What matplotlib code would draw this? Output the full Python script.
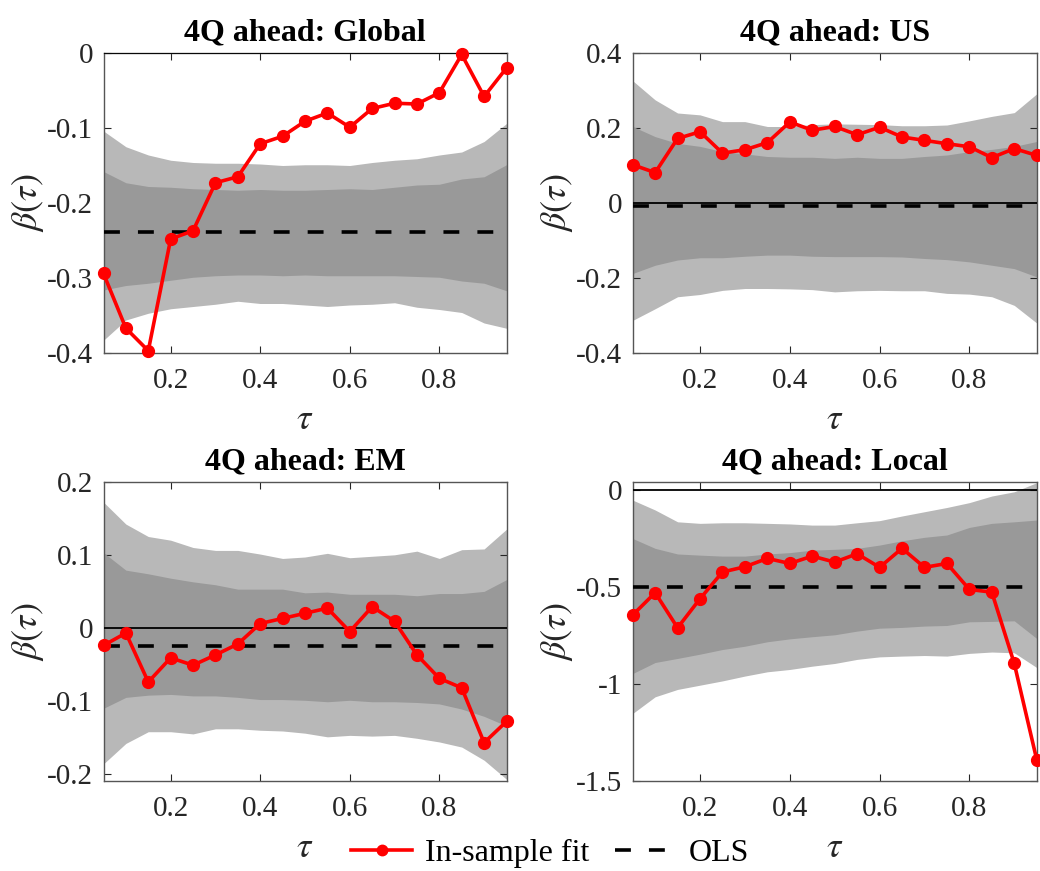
import numpy as np
import matplotlib
matplotlib.use("Agg")
import matplotlib.pyplot as plt
from matplotlib.lines import Line2D

plt.rcParams['font.family'] = ['Liberation Serif', 'DejaVu Serif']
plt.rcParams['mathtext.fontset'] = 'stix'
plt.rcParams['axes.unicode_minus'] = False

tau = [0.05, 0.10, 0.15, 0.20, 0.25, 0.30, 0.35, 0.40, 0.45, 0.50,
       0.55, 0.60, 0.65, 0.70, 0.75, 0.80, 0.85, 0.90, 0.95]

titles = ["4Q ahead: Global", "4Q ahead: US", "4Q ahead: EM", "4Q ahead: Local"]

# Global
glob_fit = [-0.294, -0.367, -0.397, -0.248, -0.237, -0.173, -0.165, -0.121, -0.111, -0.091,
            -0.080, -0.099, -0.074, -0.067, -0.068, -0.053, -0.002, -0.058, -0.020]
glob_ols = -0.239
glob_hi90 = [-0.104, -0.125, -0.136, -0.143, -0.146, -0.147, -0.147, -0.148, -0.150, -0.149,
             -0.149, -0.150, -0.146, -0.143, -0.141, -0.136, -0.132, -0.118, -0.094]
glob_hi68 = [-0.158, -0.173, -0.178, -0.179, -0.181, -0.182, -0.183, -0.182, -0.183, -0.183,
             -0.182, -0.181, -0.182, -0.179, -0.176, -0.175, -0.168, -0.165, -0.149]
glob_lo68 = [-0.316, -0.310, -0.307, -0.303, -0.299, -0.297, -0.296, -0.296, -0.297, -0.296,
             -0.297, -0.297, -0.297, -0.297, -0.298, -0.299, -0.304, -0.307, -0.317]
glob_lo90 = [-0.383, -0.356, -0.347, -0.341, -0.338, -0.335, -0.331, -0.334, -0.334, -0.336,
             -0.338, -0.336, -0.335, -0.333, -0.339, -0.342, -0.346, -0.360, -0.367]

# US
us_fit = [0.102, 0.081, 0.172, 0.190, 0.133, 0.142, 0.161, 0.216, 0.194, 0.204,
          0.182, 0.202, 0.176, 0.167, 0.158, 0.150, 0.121, 0.145, 0.127]
us_ols = -0.007
us_hi90 = [0.326, 0.275, 0.240, 0.235, 0.217, 0.217, 0.204, 0.204, 0.209, 0.211,
           0.210, 0.209, 0.206, 0.206, 0.208, 0.219, 0.231, 0.241, 0.291]
us_hi68 = [0.204, 0.177, 0.159, 0.151, 0.137, 0.131, 0.124, 0.122, 0.122, 0.119,
           0.122, 0.119, 0.119, 0.124, 0.128, 0.137, 0.143, 0.151, 0.164]
us_lo68 = [-0.188, -0.166, -0.152, -0.146, -0.146, -0.142, -0.139, -0.139, -0.142, -0.143,
           -0.143, -0.143, -0.144, -0.148, -0.151, -0.157, -0.166, -0.175, -0.197]
us_lo90 = [-0.313, -0.282, -0.250, -0.244, -0.233, -0.228, -0.228, -0.229, -0.231, -0.237,
           -0.234, -0.233, -0.234, -0.234, -0.241, -0.243, -0.250, -0.273, -0.320]

# EM
em_fit = [-0.024, -0.007, -0.074, -0.041, -0.051, -0.037, -0.022, 0.006, 0.013, 0.020,
          0.027, -0.005, 0.029, 0.009, -0.037, -0.069, -0.082, -0.157, -0.128]
em_ols = -0.025
em_hi90 = [0.172, 0.142, 0.125, 0.120, 0.110, 0.106, 0.106, 0.101, 0.095, 0.097,
           0.102, 0.096, 0.098, 0.100, 0.105, 0.095, 0.107, 0.108, 0.135]
em_hi68 = [0.103, 0.079, 0.074, 0.068, 0.063, 0.059, 0.053, 0.053, 0.053, 0.048,
           0.049, 0.046, 0.046, 0.046, 0.044, 0.047, 0.047, 0.050, 0.066]
em_lo68 = [-0.110, -0.095, -0.092, -0.091, -0.093, -0.093, -0.095, -0.098, -0.098, -0.099,
           -0.101, -0.099, -0.101, -0.101, -0.102, -0.104, -0.111, -0.121, -0.134]
em_lo90 = [-0.186, -0.158, -0.142, -0.142, -0.145, -0.138, -0.138, -0.140, -0.141, -0.144,
           -0.149, -0.147, -0.148, -0.147, -0.151, -0.156, -0.163, -0.181, -0.207]

# Local
loc_fit = [-0.645, -0.530, -0.711, -0.561, -0.423, -0.396, -0.353, -0.379, -0.341, -0.372,
           -0.329, -0.399, -0.301, -0.399, -0.379, -0.513, -0.527, -0.895, -1.391]
loc_ols = -0.501
loc_hi90 = [-0.052, -0.103, -0.164, -0.172, -0.169, -0.169, -0.172, -0.175, -0.181, -0.181,
            -0.169, -0.158, -0.134, -0.112, -0.090, -0.065, -0.031, -0.009, 0.038]
loc_hi68 = [-0.250, -0.301, -0.330, -0.336, -0.341, -0.341, -0.330, -0.323, -0.310, -0.306,
            -0.301, -0.284, -0.262, -0.244, -0.232, -0.193, -0.172, -0.164, -0.155]
loc_lo68 = [-0.947, -0.890, -0.869, -0.847, -0.823, -0.806, -0.783, -0.768, -0.757, -0.747,
            -0.728, -0.713, -0.709, -0.702, -0.699, -0.680, -0.678, -0.675, -0.766]
loc_lo90 = [-1.153, -1.067, -1.029, -1.007, -0.985, -0.960, -0.938, -0.926, -0.909, -0.895,
            -0.874, -0.861, -0.857, -0.854, -0.857, -0.843, -0.836, -0.840, -0.916]

panels = [
    (glob_fit, glob_ols, glob_hi90, glob_hi68, glob_lo68, glob_lo90, (-0.4, 0.0), [-0.4, -0.3, -0.2, -0.1, 0]),
    (us_fit, us_ols, us_hi90, us_hi68, us_lo68, us_lo90, (-0.4, 0.4), [-0.4, -0.2, 0, 0.2, 0.4]),
    (em_fit, em_ols, em_hi90, em_hi68, em_lo68, em_lo90, (-0.209, 0.2), [-0.2, -0.1, 0, 0.1, 0.2]),
    (loc_fit, loc_ols, loc_hi90, loc_hi68, loc_lo68, loc_lo90, (-1.5, 0.043), [-1.5, -1, -0.5, 0]),
]

W, H = 1040, 871
fig = plt.figure(figsize=(W / 100, H / 100), dpi=100)

boxes = [
    (103.5, 53, 506.5, 353),
    (632.7, 53, 1036.7, 353),
    (103.5, 481.7, 506.5, 780.7),
    (632.7, 481.7, 1036.7, 780.7),
]

light = '#b8b8b8'
dark = '#999999'
tick_col = '#262626'
fs_tick = 21
fs_title = 23
fs_lab = 26
fs_leg = 23
lw = 2.6
dash = (0, (4.4, 5.0))

for i, (fit, ols, hi90, hi68, lo68, lo90, ylim, yticks) in enumerate(panels):
    l, t, r, b = boxes[i]
    ax = fig.add_axes([l / W, 1 - b / H, (r - l) / W, (b - t) / H])
    ax.fill_between(tau, lo90, hi90, color=light, linewidth=0, zorder=1)
    ax.fill_between(tau, lo68, hi68, color=dark, linewidth=0, zorder=2)
    ax.axhline(0, color='black', linewidth=1.3, zorder=3)
    ax.axhline(ols, color='black', linewidth=lw, linestyle=dash, zorder=4)
    ax.plot(tau, fit, color='#ff0000', linewidth=lw, marker='o', markersize=8.5,
            zorder=5, clip_on=False)
    ax.set_xlim(0.05, 0.95)
    ax.set_ylim(*ylim)
    ax.set_xticks([0.2, 0.4, 0.6, 0.8])
    ax.set_xticklabels(['0.2', '0.4', '0.6', '0.8'])
    ax.set_yticks(yticks)
    ax.set_yticklabels(['%g' % v for v in yticks])
    ax.tick_params(direction='in', length=5, width=0.8, top=True, right=True,
                   labelsize=fs_tick, colors=tick_col)
    ax.tick_params(axis='x', pad=11)
    ax.tick_params(axis='y', pad=7.5)
    for s in ax.spines.values():
        s.set_color('#555555')
        s.set_linewidth(1.0)
    ax.set_title(titles[i], fontsize=fs_title, fontweight='bold', pad=9)
    ax.set_xlabel(r'$\tau$', fontsize=fs_lab, color=tick_col, labelpad=7)
    ax.set_ylabel(r'$\beta(\tau)$', fontsize=fs_lab, color=tick_col, labelpad=1)

handles = [
    Line2D([], [], color='#ff0000', linewidth=lw, marker='o', markersize=7.5),
    Line2D([], [], color='black', linewidth=lw, linestyle=dash),
]
fig.legend(handles, ['In-sample fit', 'OLS'], loc='center', ncol=2, frameon=False,
           bbox_to_anchor=(550 / W, 1 - 853 / H), fontsize=fs_leg, handlelength=1.9,
           columnspacing=0.8, handletextpad=0.4)

fig.savefig('out.png', dpi=100, facecolor='white')
